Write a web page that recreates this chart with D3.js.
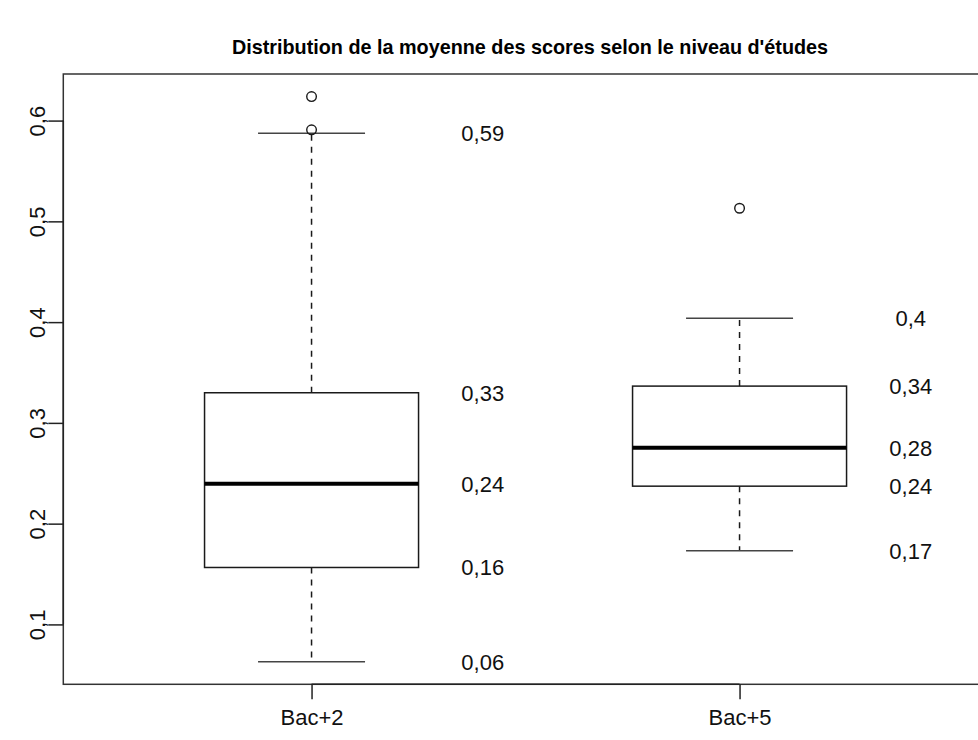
<!DOCTYPE html>
<html>
<head>
<meta charset="utf-8">
<script src="https://cdn.jsdelivr.net/npm/d3@7"></script>
<style>
  html, body { margin: 0; padding: 0; background: #fff; }
  svg { display: block; font-family: "Liberation Sans", Arial, Helvetica, sans-serif; }
</style>
</head>
<body>
<svg id="chart" width="978" height="740"></svg>
<script>
const title = "Distribution de la moyenne des scores selon le niveau d'études";
const categories = ["Bac+2", "Bac+5"];
const whiskerLow = [0.063, 0.173];
const q1 = [0.1565, 0.2372];
const median = [0.2395, 0.2753];
const q3 = [0.3299, 0.3365];
const whiskerHigh = [0.5875, 0.4038];
const outliers = [[0.6238, 0.5908], [0.513]];
const yTicks = [0.1, 0.2, 0.3, 0.4, 0.5, 0.6];
const statLabels = [
  ["0,59", "0,33", "0,24", "0,16", "0,06"],
  ["0,4", "0,34", "0,28", "0,24", "0,17"]
];

const svg = d3.select("#chart");
const fs = 22;

// data range with R-style 4% extension
const allVals = [].concat(whiskerLow, whiskerHigh, ...outliers);
const lo = d3.min(allVals), hi = d3.max(allVals);
const ext = (hi - lo) * 0.04;
const y = d3.scaleLinear().domain([lo - ext, hi + ext]).range([684.3, 74]);
const n = categories.length;
const xExt = n * 0.04;
const x = d3.scaleLinear().domain([0.5 - xExt, n + 0.5 + xExt]).range([63.3, 987.8]);

const stroke = "#1a1a1a";

// plot frame
svg.append("rect")
  .attr("x", x.range()[0]).attr("y", y.range()[1])
  .attr("width", x.range()[1] - x.range()[0])
  .attr("height", y.range()[0] - y.range()[1])
  .attr("fill", "none").attr("stroke", "#333").attr("stroke-width", 1.5);

// y axis
const yAxis = d3.axisLeft(y).tickValues(yTicks).tickSize(15)
  .tickFormat(d => d3.format(".1f")(d).replace(".", ","));
const gy = svg.append("g").attr("transform", `translate(${x.range()[0]},0)`).call(yAxis);
gy.select(".domain").attr("stroke", "#222").attr("stroke-width", 1.5)
  .attr("d", `M0,${y(yTicks[0])}V${y(yTicks[yTicks.length-1])}`);
gy.selectAll(".tick line").attr("stroke", "#222").attr("stroke-width", 1.5);
gy.selectAll(".tick text")
  .attr("font-size", fs).attr("fill", "#111")
  .attr("font-family", "Liberation Sans, Arial, sans-serif")
  .attr("transform", "rotate(-90)")
  .attr("text-anchor", "middle")
  .attr("x", 0).attr("y", -18).attr("dy", "0");

// x axis
const xAxis = d3.axisBottom(x).tickValues(d3.range(1, n + 1)).tickSize(15)
  .tickFormat(d => categories[d - 1]);
const gx = svg.append("g").attr("transform", `translate(0,${y.range()[0]})`).call(xAxis);
gx.select(".domain").attr("stroke", "#222").attr("stroke-width", 1.5)
  .attr("d", `M${x(1)},0H${x(n)}`);
gx.selectAll(".tick line").attr("stroke", "#222").attr("stroke-width", 1.5);
gx.selectAll(".tick text")
  .attr("font-size", fs).attr("fill", "#111")
  .attr("font-family", "Liberation Sans, Arial, sans-serif")
  .attr("y", 41).attr("dy", "0");

// boxes
const boxHalf = 0.25, capHalf = 0.125;
categories.forEach((c, i) => {
  const cx = i + 1;
  const g = svg.append("g");
  g.append("line").attr("x1", x(cx)).attr("x2", x(cx))
    .attr("y1", y(q3[i])).attr("y2", y(whiskerHigh[i]))
    .attr("stroke", stroke).attr("stroke-width", 1.5).attr("stroke-dasharray", "6,6");
  g.append("line").attr("x1", x(cx)).attr("x2", x(cx))
    .attr("y1", y(q1[i])).attr("y2", y(whiskerLow[i]))
    .attr("stroke", stroke).attr("stroke-width", 1.5).attr("stroke-dasharray", "6,6");
  [whiskerHigh[i], whiskerLow[i]].forEach(v => {
    g.append("line").attr("x1", x(cx - capHalf)).attr("x2", x(cx + capHalf))
      .attr("y1", y(v)).attr("y2", y(v))
      .attr("stroke", "#444").attr("stroke-width", 1.5);
  });
  g.append("rect")
    .attr("x", x(cx - boxHalf)).attr("width", x(cx + boxHalf) - x(cx - boxHalf))
    .attr("y", y(q3[i])).attr("height", y(q1[i]) - y(q3[i]))
    .attr("fill", "#fff").attr("stroke", stroke).attr("stroke-width", 1.5);
  g.append("line").attr("x1", x(cx - boxHalf)).attr("x2", x(cx + boxHalf))
    .attr("y1", y(median[i])).attr("y2", y(median[i]))
    .attr("stroke", "#000").attr("stroke-width", 4);
  g.selectAll("circle.out").data(outliers[i]).enter().append("circle")
    .attr("cx", x(cx)).attr("cy", d => y(d)).attr("r", 4.8)
    .attr("fill", "none").attr("stroke", stroke).attr("stroke-width", 1.4);
  const vals = [whiskerHigh[i], q3[i], median[i], q1[i], whiskerLow[i]];
  vals.forEach((v, k) => {
    svg.append("text")
      .attr("x", x(cx + 0.4)).attr("y", y(v) + fs * 0.36)
      .attr("text-anchor", "middle").attr("font-size", fs).attr("fill", "#111")
      .text(statLabels[i][k]);
  });
});

// title
svg.append("text")
  .attr("x", 530).attr("y", 54)
  .attr("text-anchor", "middle").attr("font-size", 19.8).attr("font-weight", "bold")
  .attr("fill", "#000")
  .text(title);
</script>
</body>
</html>
